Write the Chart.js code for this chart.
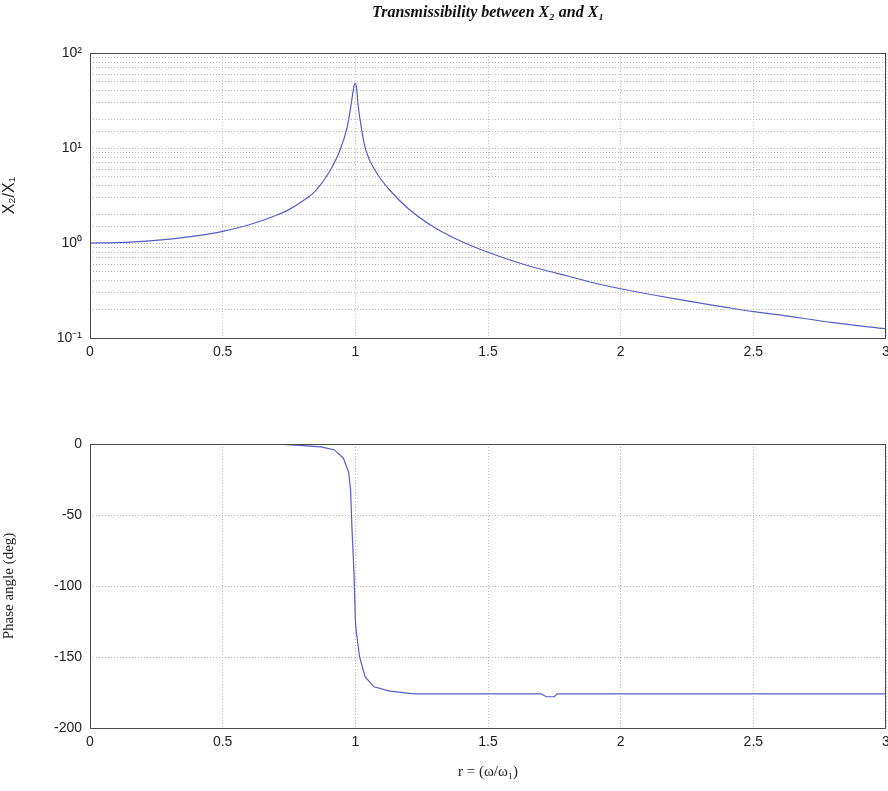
<!DOCTYPE html>
<html>
<head>
<meta charset="utf-8">
<script src="https://cdn.jsdelivr.net/npm/chart.js@4/dist/chart.umd.min.js"></script>
<style>
  body { margin:0; background:#fff; }
  .wrap { position:absolute; left:0; width:888px; }
  #w1 { top:0; height:400px; }
  #w2 { top:400px; height:391px; }
</style>
</head>
<body>
<div class="wrap" id="w1"><canvas id="c1"></canvas></div>
<div class="wrap" id="w2"><canvas id="c2"></canvas></div>
<script>
// values
var rMag = [0, 0.1, 0.2, 0.3, 0.4, 0.5, 0.6, 0.7, 0.75, 0.8, 0.85, 0.9, 0.94, 0.97, 0.985, 0.995, 1.0, 1.005, 1.01, 1.025, 1.04, 1.08, 1.13, 1.2, 1.3, 1.4, 1.5, 1.6, 1.7, 1.8, 1.9, 2.0, 2.2, 2.4, 2.5, 2.6, 2.8, 3.0];
var mag = [1.0, 1.01, 1.04, 1.10, 1.19, 1.33, 1.56, 1.95, 2.25, 2.75, 3.55, 5.5, 9.2, 17, 30, 45, 48, 42, 29, 15, 9.4, 5.5, 3.6, 2.3, 1.45, 1.04, 0.80, 0.64, 0.53, 0.45, 0.38, 0.33, 0.26, 0.21, 0.19, 0.175, 0.145, 0.125];

var rPhase = [0.57, 0.65, 0.73, 0.79, 0.87, 0.92, 0.955, 0.975, 0.982, 0.987, 0.995, 1.0, 1.003, 1.016, 1.037, 1.07, 1.13, 1.22, 1.5, 1.70, 1.72, 1.75, 1.76, 2.0, 2.5, 3.0];
var phase = [0, 0, -0.3, -1, -2, -4, -10, -20, -32, -58, -91, -124, -131, -150, -164, -171, -174, -176, -176, -176, -178, -178, -176, -176, -176, -176];

var xTicks = [0, 0.5, 1, 1.5, 2, 2.5, 3];
var supers = {'2':'\u00b2', '1':'\u00b9', '0':'\u2070', '-1':'\u207b\u00b9'};

var lineColor = 'rgb(85,92,200)';
var gridColor = '#b8b8b8';
var tickFont = {family:'Liberation Sans, Arial', size:14};

var boxPlugin = {
  id: 'box',
  afterDraw: function(c){
    var a = c.chartArea, ctx = c.ctx;
    ctx.save();
    ctx.strokeStyle = '#4a4a4a';
    ctx.lineWidth = 1;
    ctx.strokeRect(Math.round(a.left)+0.5, Math.round(a.top)+0.5, Math.round(a.right-a.left)-1, Math.round(a.bottom-a.top));
    ctx.restore();
  }
};

function pts(xs, ys){
  var out = [];
  for (var i=0;i<xs.length;i++) out.push({x:xs[i], y:ys[i]});
  return out;
}

function xAxis(h, title){
  var ax = {
    type:'linear', min:0, max:3,
    afterBuildTicks: function(s){ s.ticks = xTicks.map(function(v){ return {value:v}; }); },
    ticks:{ font:tickFont, color:'#222', padding:6, maxRotation:0, callback:function(v){ return String(v); } },
    grid:{ color:gridColor, drawTicks:false },
    border:{ display:false, dash:[1,2] },
    afterFit: function(s){ s.height = h; s.paddingRight = 2; s.paddingLeft = 0; }
  };
  if (title) ax.title = { display:true, text:title, color:'#222', font:{family:'Liberation Serif, Times New Roman', size:15}, padding:{top:4, bottom:10} };
  return ax;
}

new Chart(document.getElementById('c1'), {
  type:'line',
  data:{ datasets:[{ data:pts(rMag, mag), borderColor:lineColor, borderWidth:1.2, pointRadius:0, tension:0.3, cubicInterpolationMode:'monotone' }] },
  options:{
    responsive:true, maintainAspectRatio:false, animation:false,
    layout:{ padding:{left:0, right:0, top:0, bottom:0} },
    plugins:{
      legend:{display:false}, tooltip:{enabled:false},
      title:{ display:true, fullSize:false, text:'Transmissibility between X\u2082 and X\u2081', color:'#111',
        font:{family:'Liberation Serif, Times New Roman', size:16, style:'italic', weight:'bold'}, padding:{top:3, bottom:31} }
    },
    scales:{
      x: xAxis(62, null),
      y:{
        type:'logarithmic', min:0.1, max:100,
        ticks:{ font:tickFont, color:'#222', padding:8, autoSkip:false,
          callback:function(v){ var l = Math.log10(v); var r = Math.round(l); if (Math.abs(l-r) < 1e-6) return '10' + supers[String(r)]; return ''; } },
        grid:{ color:gridColor, drawTicks:false },
        border:{ display:false, dash:[1,2] },
        title:{ display:true, text:'X\u2082/X\u2081', color:'#222', font:{family:'Liberation Sans, Arial', size:16}, padding:{top:0, bottom:4} },
        afterFit:function(s){ s.width = 90; }
      }
    }
  },
  plugins:[boxPlugin]
});

new Chart(document.getElementById('c2'), {
  type:'line',
  data:{ datasets:[{ data:pts(rPhase, phase), borderColor:lineColor, borderWidth:1.2, pointRadius:0, tension:0 }] },
  options:{
    responsive:true, maintainAspectRatio:false, animation:false,
    layout:{ padding:{left:0, right:0, top:44, bottom:0} },
    plugins:{ legend:{display:false}, tooltip:{enabled:false} },
    scales:{
      x: xAxis(63, 'r = (\u03c9/\u03c9\u2081)'),
      y:{
        type:'linear', min:-200, max:0,
        ticks:{ font:tickFont, color:'#222', padding:8, stepSize:50 },
        grid:{ color:gridColor, drawTicks:false },
        border:{ display:false, dash:[1,2] },
        title:{ display:true, text:'Phase angle (deg)', color:'#222', font:{family:'Liberation Serif, Times New Roman', size:15}, padding:{top:0, bottom:4} },
        afterFit:function(s){ s.width = 90; }
      }
    }
  },
  plugins:[boxPlugin]
});
</script>
</body>
</html>
